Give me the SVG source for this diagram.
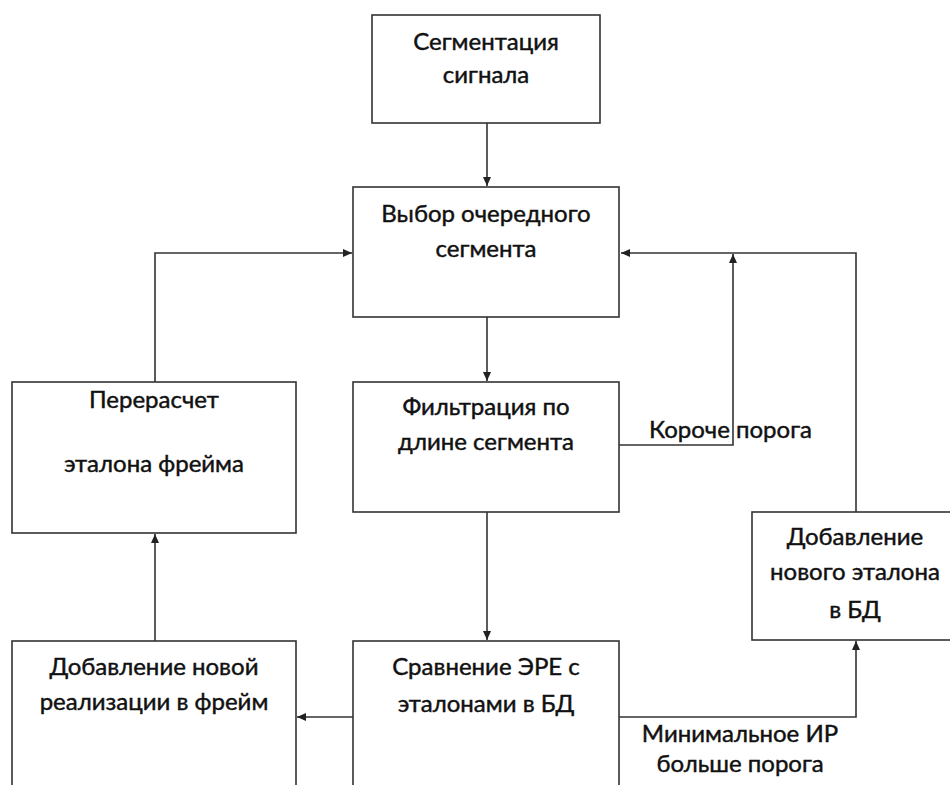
<svg xmlns="http://www.w3.org/2000/svg" width="950" height="785" viewBox="0 0 950 785">
<defs>
<marker id="ah" markerWidth="10" markerHeight="8" refX="9" refY="4" orient="auto" markerUnits="userSpaceOnUse">
<path d="M0,0 L9,4 L0,8 Z" fill="#222"/>
</marker>
<style>
.box{fill:#fff;stroke:#333;stroke-width:1.6}
.t{font-family:Lato,"Liberation Sans",sans-serif;font-size:24px;fill:#111;stroke:#111;stroke-width:0.45;text-anchor:middle}
.lbl{font-family:Lato,"Liberation Sans",sans-serif;font-size:24px;fill:#111;stroke:#111;stroke-width:0.45}
.c{fill:none;stroke:#333;stroke-width:1.6}
</style>
</defs>
<rect width="950" height="785" fill="#fff"/>
<g id="connectors">
<path class="c" d="M487,123 V186" marker-end="url(#ah)"/>
<path class="c" d="M487,317 V381" marker-end="url(#ah)"/>
<path class="c" d="M487,512 V640" marker-end="url(#ah)"/>
<path class="c" d="M619,445 H733 V254" marker-end="url(#ah)"/>
<path class="c" d="M856,512 V253 H621" marker-end="url(#ah)"/>
<path class="c" d="M155,382 V253 H352" marker-end="url(#ah)"/>
<path class="c" d="M155,641 V534" marker-end="url(#ah)"/>
<path class="c" d="M353,717 H297" marker-end="url(#ah)"/>
<path class="c" d="M619,717 H856 V641" marker-end="url(#ah)"/>
<text class="lbl" x="649" y="438">Короче порога</text>
<text class="t" x="740" y="742">Минимальное ИР</text>
<text class="t" x="740" y="772">больше порога</text>
</g>
<g id="segmentation">
<rect class="box" x="372" y="15" width="228" height="108"/>
<text class="t" x="486" y="50">Сегментация</text>
<text class="t" x="486" y="83">сигнала</text>
</g>
<g id="select">
<rect class="box" x="353" y="187" width="266" height="130"/>
<text class="t" x="486" y="222">Выбор очередного</text>
<text class="t" x="486" y="257">сегмента</text>
</g>
<g id="recalc">
<rect class="box" x="12" y="382" width="284" height="151"/>
<text class="t" x="154" y="408">Перерасчет</text>
<text class="t" x="154" y="472">эталона фрейма</text>
</g>
<g id="filter">
<rect class="box" x="353" y="382" width="266" height="130"/>
<text class="t" x="486" y="415">Фильтрация по</text>
<text class="t" x="486" y="450">длине сегмента</text>
</g>
<g id="addref">
<rect class="box" x="752" y="512" width="210" height="128"/>
<text class="t" x="855" y="545">Добавление</text>
<text class="t" x="855" y="580">нового эталона</text>
<text class="t" x="855" y="618">в БД</text>
</g>
<g id="addimpl">
<rect class="box" x="12" y="641" width="284" height="160"/>
<text class="t" x="154" y="675">Добавление новой</text>
<text class="t" x="154" y="710">реализации в фрейм</text>
</g>
<g id="compare">
<rect class="box" x="353" y="641" width="266" height="160"/>
<text class="t" x="486" y="675">Сравнение ЭРЕ с</text>
<text class="t" x="486" y="712">эталонами в БД</text>
</g>
</svg>
